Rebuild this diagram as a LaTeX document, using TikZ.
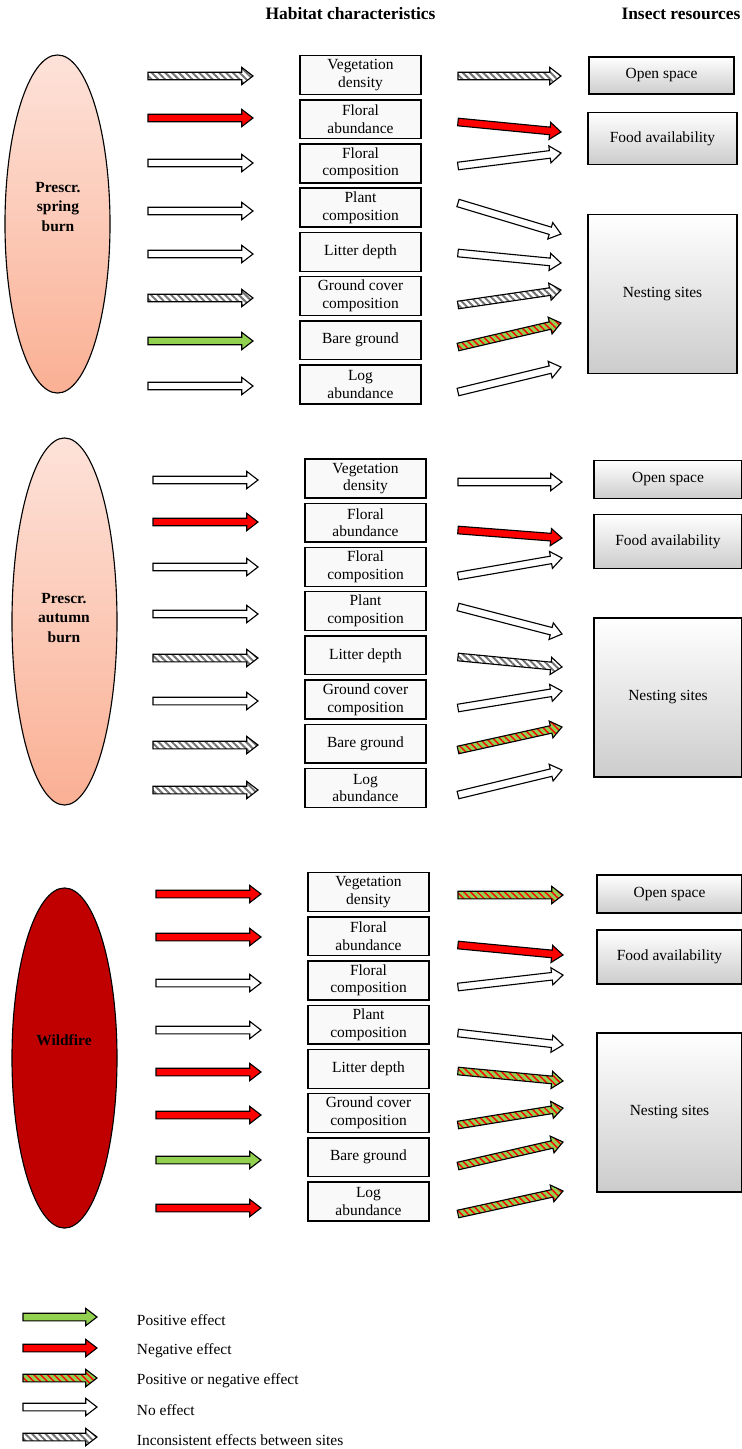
\documentclass[tikz,border=0pt]{standalone}
\usepackage{fontspec}
\setmainfont{Liberation Serif}
\usetikzlibrary{calc,shapes.geometric,patterns.meta}

\definecolor{posgreen}{RGB}{146,208,80}
\definecolor{negred}{RGB}{255,0,0}
\definecolor{firered}{RGB}{192,0,0}
\definecolor{burntop}{RGB}{253,226,217}
\definecolor{burnbot}{RGB}{250,176,148}
\definecolor{boxfill}{RGB}{249,249,249}

% fat block arrow from tail coordinate #2 to tip coordinate #3, style #1
\newcommand{\fatarrow}[3]{%
  \path (#2) coordinate (fa-t) (#3) coordinate (fa-h);
  \path ($(fa-h)!\HeadL!(fa-t)$) coordinate (fa-n);
  \draw[#1] ($(fa-t)!\ShaftW!90:(fa-h)$) -- ($(fa-n)!\ShaftW!-90:(fa-t)$)
    -- ($(fa-n)!\HeadW!-90:(fa-t)$) -- (fa-h) -- ($(fa-n)!\HeadW!90:(fa-t)$)
    -- ($(fa-n)!\ShaftW!90:(fa-t)$) -- ($(fa-t)!\ShaftW!-90:(fa-h)$) -- cycle;
}

\begin{document}
\begin{tikzpicture}[x=0.025cm, y=-0.025cm]
% ---------------------------------------------------------
% Dimensions (1 unit = 1 pixel of the layout)
% ---------------------------------------------------------
\def\ShaftW{0.095cm}   % half thickness of arrow shaft
\def\HeadW{0.215cm}    % half width of arrow head
\def\HeadL{0.28cm}     % length of arrow head
\def\RowStep{44.2}     % distance between habitat rows
\def\HabLabels{{Vegetation\\density},{Floral\\abundance},{Floral\\composition},{Plant\\composition},{Litter depth},{Ground cover\\composition},{Bare ground},{Log\\abundance}}

% ---------------------------------------------------------
% Styles
% ---------------------------------------------------------
\tikzset{
  hab box/.style={draw=black, line width=1pt, fill=boxfill, minimum width=3.025cm,
    minimum height=0.97cm, inner sep=1pt, align=center, font=\fontsize{11}{12.6}\selectfont},
  res box/.style={draw=black, line width=0.9pt, top color=white, bottom color=black!20,
    align=center, inner sep=0pt, font=\fontsize{11}{13}\selectfont},
  burn/.style={ellipse, draw=black, line width=0.8pt, inner sep=0pt},
  burn text/.style={font=\bfseries\fontsize{11}{13.8}\selectfont, align=center},
  head text/.style={font=\bfseries\fontsize{12.4}{15}\selectfont},
  key text/.style={anchor=west, font=\fontsize{11}{13}\selectfont},
  fat arrow/.style={draw=black, line width=0.8pt, line join=miter},
  none arrow/.style={fat arrow, fill=white},
  neg arrow/.style={fat arrow, fill=negred},
  pos arrow/.style={fat arrow, fill=posgreen},
  incons arrow/.style={fat arrow, preaction={fill=white},
    pattern={Lines[angle=-45,distance=3.4pt,line width=1.4pt]}, pattern color=black!55},
  mixed arrow/.style={fat arrow, preaction={fill=posgreen},
    pattern={Lines[angle=-45,distance=3.4pt,line width=1pt]}, pattern color=negred}
}

\useasboundingbox (0,0) rectangle (742,1449);

% =========================================================
% 0) COLUMN HEADINGS
% =========================================================
\node[head text] (head-hab) at (350.5,14) {Habitat characteristics};
\node[head text] (head-res) at (681,14) {Insect resources};

% =========================================================
% 1) PRESCRIBED SPRING BURN
% =========================================================
\node[burn, minimum width=2.625cm, minimum height=8.45cm,
  top color=burntop, bottom color=burnbot] (spring) at (57.5,224) {};
\node[burn text] (spring-txt) at (58,207) {Prescr.\\spring\\burn};

\foreach \txt [count=\i] in \HabLabels
  \node[hab box] (sp-h\i) at (360.5,{75+\RowStep*(\i-1)}) {\txt};

\node[res box, minimum width=3.625cm, minimum height=0.925cm] (sp-open) at (661.5,75.5) {Open space};
\node[res box, minimum width=3.725cm, minimum height=1.3cm] (sp-food) at (662.5,138.5) {Food availability};
\node[res box, minimum width=3.725cm, minimum height=3.975cm] (sp-nest) at (662.5,294) {Nesting sites};

% fire -> habitat
\foreach \y/\sty [count=\i] in {76/incons arrow, 118/neg arrow, 163/none arrow, 211/none arrow,
    254/none arrow, 298/incons arrow, 341/pos arrow, 386/none arrow} {
  \coordinate (sp-in\i) at (148,\y);
  \coordinate (sp-to\i) at (253,\y);
  \expandafter\fatarrow\expandafter{\sty}{sp-in\i}{sp-to\i}
}
% habitat -> resources
\foreach \ya/\yb/\sty [count=\i] in {76/76/incons arrow, 122/132/neg arrow, 166/153/none arrow,
    203/234/none arrow, 253/263/none arrow, 305/290/incons arrow, 347/323/mixed arrow, 392/367/none arrow} {
  \coordinate (sp-out\i) at (458,\ya);
  \coordinate (sp-res\i) at (561,\yb);
  \expandafter\fatarrow\expandafter{\sty}{sp-out\i}{sp-res\i}
}

% =========================================================
% 2) PRESCRIBED AUTUMN BURN
% =========================================================
\node[burn, minimum width=2.625cm, minimum height=9.175cm,
  top color=burntop, bottom color=burnbot] (autumn) at (64.5,621.5) {};
\node[burn text] (autumn-txt) at (64,618) {Prescr.\\autumn\\burn};

\foreach \txt [count=\i] in \HabLabels
  \node[hab box] (au-h\i) at (365.5,{478.5+\RowStep*(\i-1)}) {\txt};

\node[res box, minimum width=3.7cm, minimum height=0.95cm] (au-open) at (668,479.5) {Open space};
\node[res box, minimum width=3.7cm, minimum height=1.35cm] (au-food) at (668,541.5) {Food availability};
\node[res box, minimum width=3.7cm, minimum height=3.975cm] (au-nest) at (668,697.5) {Nesting sites};

\foreach \y/\sty [count=\i] in {480/none arrow, 522/neg arrow, 567/none arrow, 614/none arrow,
    658/incons arrow, 701/none arrow, 745/incons arrow, 790/incons arrow} {
  \coordinate (au-in\i) at (153,\y);
  \coordinate (au-to\i) at (258,\y);
  \expandafter\fatarrow\expandafter{\sty}{au-in\i}{au-to\i}
}
\foreach \ya/\yb/\sty [count=\i] in {482/482/none arrow, 530/538/neg arrow, 576/558/none arrow,
    607/634/none arrow, 657/667/incons arrow, 708/691/none arrow, 750/727/mixed arrow, 795/770/none arrow} {
  \coordinate (au-out\i) at (458,\ya);
  \coordinate (au-res\i) at (562,\yb);
  \expandafter\fatarrow\expandafter{\sty}{au-out\i}{au-res\i}
}

% =========================================================
% 3) WILDFIRE
% =========================================================
\node[burn, minimum width=2.625cm, minimum height=8.5cm, fill=firered] (wild) at (64.5,1058) {};
\node[burn text] (wild-txt) at (64,1040) {Wildfire};

\foreach \txt [count=\i] in \HabLabels
  \node[hab box] (wf-h\i) at (368.5,{892+\RowStep*(\i-1)}) {\txt};

\node[res box, minimum width=3.625cm, minimum height=0.95cm] (wf-open) at (669.5,894) {Open space};
\node[res box, minimum width=3.625cm, minimum height=1.35cm] (wf-food) at (669.5,957) {Food availability};
\node[res box, minimum width=3.625cm, minimum height=3.975cm] (wf-nest) at (669.5,1112.5) {Nesting sites};

\foreach \y/\sty [count=\i] in {894/neg arrow, 937/neg arrow, 983/none arrow, 1030/none arrow,
    1072/neg arrow, 1115/neg arrow, 1160/pos arrow, 1208/neg arrow} {
  \coordinate (wf-in\i) at (156,\y);
  \coordinate (wf-to\i) at (261,\y);
  \expandafter\fatarrow\expandafter{\sty}{wf-in\i}{wf-to\i}
}
\foreach \ya/\yb/\sty [count=\i] in {895/895/mixed arrow, 945/955/neg arrow, 987/975/none arrow,
    1033/1045/none arrow, 1071/1081/mixed arrow, 1125/1108/mixed arrow, 1166/1142/mixed arrow, 1214/1191/mixed arrow} {
  \coordinate (wf-out\i) at (458,\ya);
  \coordinate (wf-res\i) at (563,\yb);
  \expandafter\fatarrow\expandafter{\sty}{wf-out\i}{wf-res\i}
}

% =========================================================
% 4) LEGEND
% =========================================================
\foreach \y/\sty/\txt [count=\i] in {1317/pos arrow/Positive effect, 1348/neg arrow/Negative effect,
    1378/mixed arrow/Positive or negative effect, 1407/none arrow/No effect,
    1437/incons arrow/Inconsistent effects between sites} {
  \coordinate (key-a\i) at (23,\y);
  \coordinate (key-b\i) at (97,\y);
  \expandafter\fatarrow\expandafter{\sty}{key-a\i}{key-b\i}
  \node[key text] (key-t\i) at (132,\y+3) {\txt};
}

\end{tikzpicture}
\end{document}
